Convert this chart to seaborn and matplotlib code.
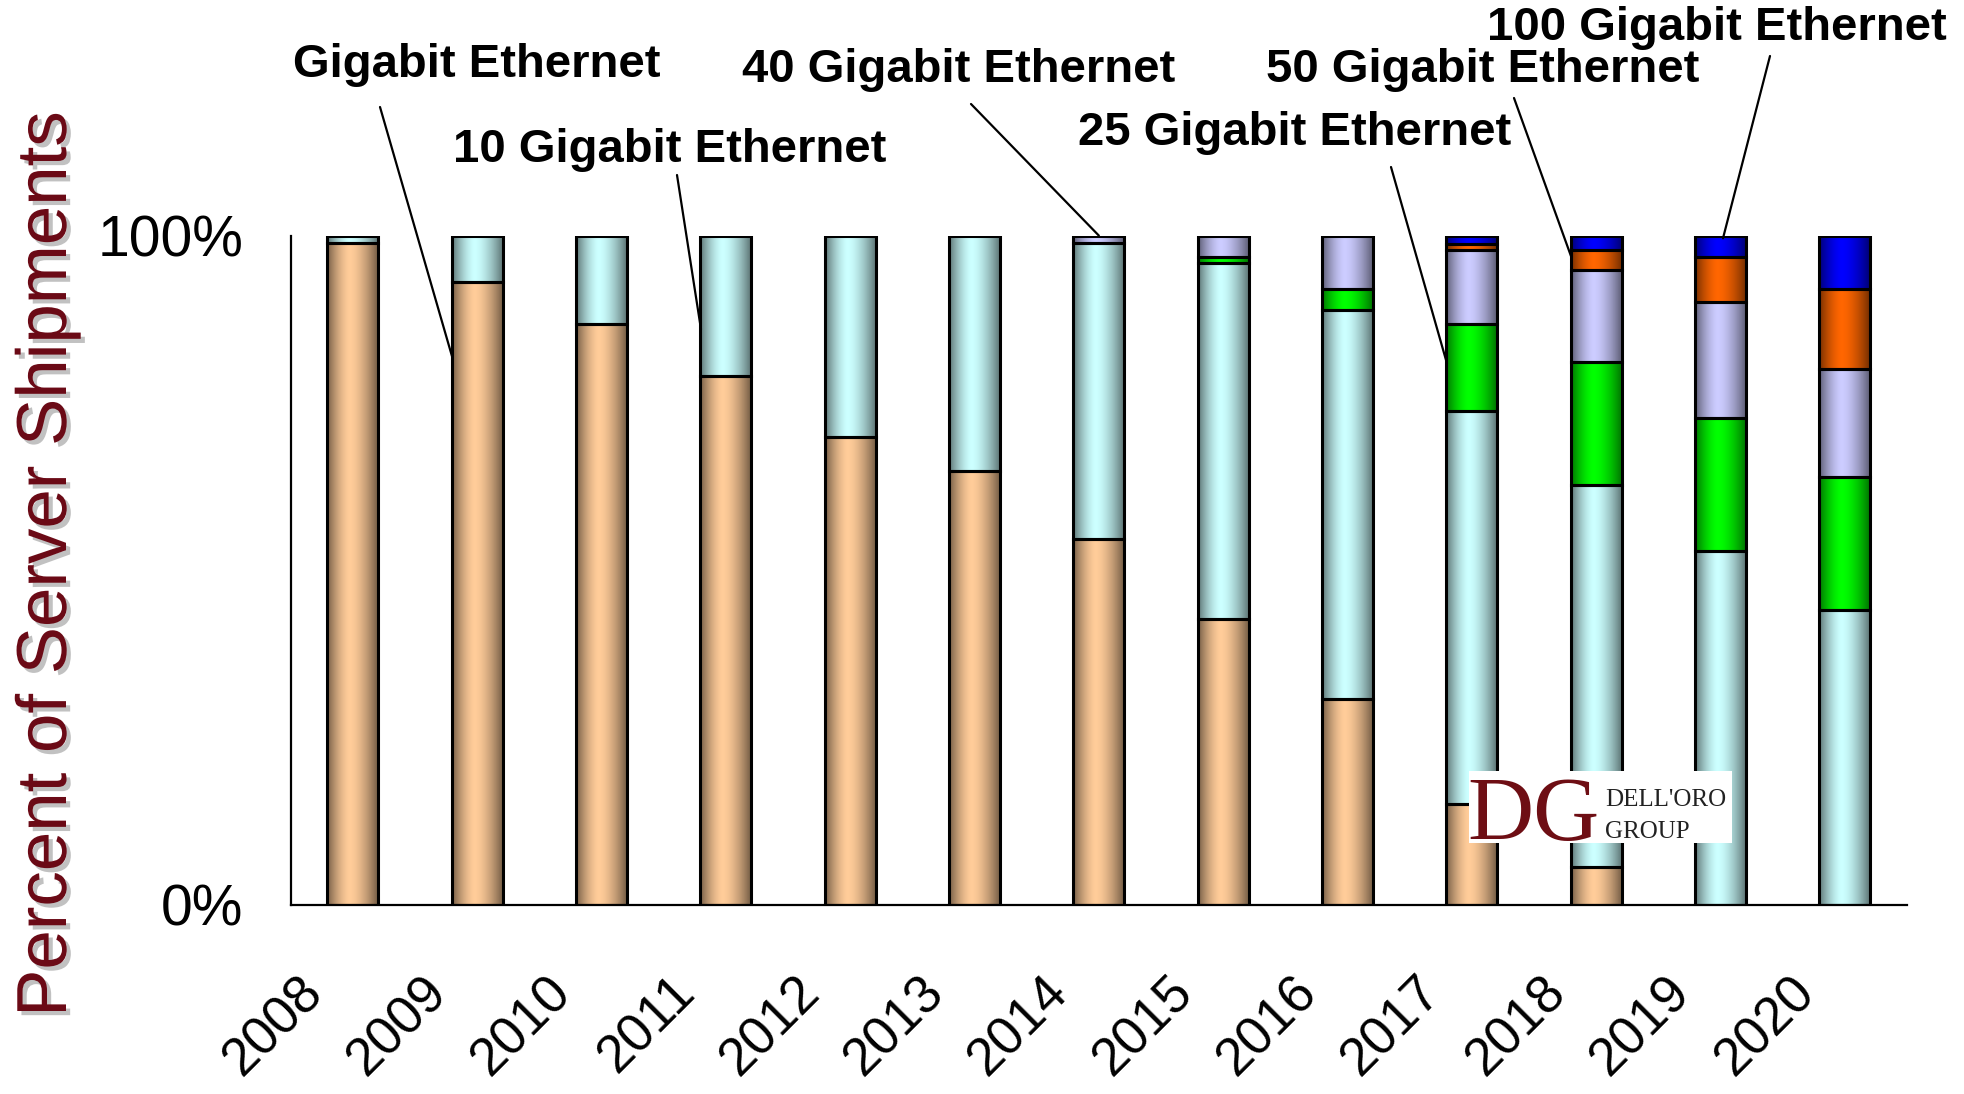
import numpy as np
import pandas as pd
import matplotlib
matplotlib.use('Agg')
from matplotlib import pyplot as plt
from matplotlib import patheffects
from matplotlib.patches import Rectangle
from matplotlib.transforms import ScaledTranslation
import seaborn as sb

'''
Server Ethernet port speed mix, share of shipments 2008-2020
'''

years = ['2008', '2009', '2010', '2011', '2012', '2013', '2014',
         '2015', '2016', '2017', '2018', '2019', '2020']

# percent of shipments per speed (bottom to top)
gbe = [98.9, 93.1, 86.8, 79.0, 69.9, 64.8, 54.7, 42.7, 30.7, 15.0, 5.6, 0.0, 0.0]
ge10 = [1.1, 6.9, 13.2, 21.0, 30.1, 35.2, 44.2, 53.2, 58.2, 58.8, 57.2, 52.9, 44.0]
ge25 = [0.0, 0.0, 0.0, 0.0, 0.0, 0.0, 0.0, 0.9, 3.1, 13.0, 18.3, 19.9, 19.9]
ge40 = [0.0, 0.0, 0.0, 0.0, 0.0, 0.0, 1.1, 3.2, 8.0, 11.1, 13.7, 17.3, 16.1]
ge50 = [0.0, 0.0, 0.0, 0.0, 0.0, 0.0, 0.0, 0.0, 0.0, 0.9, 3.1, 6.7, 12.0]
ge100 = [0.0, 0.0, 0.0, 0.0, 0.0, 0.0, 0.0, 0.0, 0.0, 1.2, 2.1, 3.2, 8.0]

series_names = ['Gigabit Ethernet', '10 Gigabit Ethernet', '25 Gigabit Ethernet',
                '40 Gigabit Ethernet', '50 Gigabit Ethernet', '100 Gigabit Ethernet']
series_vals = [gbe, ge10, ge25, ge40, ge50, ge100]
series_colors = ['#FFCC99', '#CCFFFF', '#00FF00', '#CCCCFF', '#FF6600', '#0000FF']

W, H = 1965, 1094


def fig_frac(px, py):
    return px / W, 1 - py / H


# label text centre (px), leader start (px), leader tip (data)
callouts = {
    'Gigabit Ethernet': ((477, 65), (380, 107), (0.8, 81.8)),
    '10 Gigabit Ethernet': ((670, 150), (677, 175), (2.8, 86.0)),
    '40 Gigabit Ethernet': ((959, 70), (971, 104), (6.0, 100.0)),
    '25 Gigabit Ethernet': ((1295, 133), (1391, 167), (8.8, 80.9)),
    '50 Gigabit Ethernet': ((1483, 70), (1514, 98), (9.8, 96.8)),
    '100 Gigabit Ethernet': ((1717, 28), (1770, 56), (11.02, 99.6)),
}


def shade_bars(ax, patches):
    # cylinder-like shading: darker towards both edges
    t = np.linspace(0, 1, 200)
    peak = 0.45
    d = np.where(t < peak, (peak - t) / peak, (t - peak) / (1 - peak))
    alpha = 0.55 * d ** 1.6
    grad = np.zeros((1, len(t), 4))
    grad[0, :, 3] = alpha
    for p in patches:
        x0, y0 = p.get_x(), p.get_y()
        w, h = p.get_width(), p.get_height()
        if h <= 0:
            continue
        im = ax.imshow(grad, extent=[x0, x0 + w, y0, y0 + h], aspect='auto',
                       interpolation='bilinear', zorder=2.5)
        im.set_clip_path(p)
        ax.add_patch(Rectangle((x0, y0), w, h, fill=False, edgecolor='black',
                               linewidth=2.2, zorder=3))


def stacked_plot(df):
    fig = plt.figure(figsize=(W / 100, H / 100), dpi=100)
    ax = fig.add_axes([290.7 / W, 1 - 904.8 / H, (1907 - 290.7) / W, (904.8 - 235.6) / H])

    bottom = np.zeros(len(df))
    all_patches = []
    for name, col in zip(series_names, series_colors):
        n0 = len(ax.patches)
        sb.barplot(data=df, x='year', y=name, bottom=bottom, color=col, saturation=1,
                   width=0.41, errorbar=None, edgecolor='black', linewidth=0, ax=ax, zorder=2)
        all_patches += ax.patches[n0:]
        bottom = bottom + df[name].values

    shade_bars(ax, all_patches)
    ax.set_xlim(-0.5, 12.5)
    ax.set_ylim(0, 100)

    for s in ['top', 'right']:
        ax.spines[s].set_visible(False)
    for s in ['left', 'bottom']:
        ax.spines[s].set_linewidth(1.6)
        ax.spines[s].set_color('black')

    ax.set_yticks([0, 100])
    ax.set_yticklabels(['0%', '100%'], fontsize=41)
    ax.tick_params(axis='y', direction='out', length=14, width=1.5, pad=20, colors='black')
    ax.tick_params(axis='x', length=0, pad=45, colors='black')
    ax.set_xlabel('')
    ax.set_ylabel('')
    ax.set_xticks(range(len(years)))
    ax.set_xticklabels(years, fontsize=38, rotation=45, ha='right', va='top',
                       rotation_mode='anchor')
    off = ScaledTranslation(-0.56, 0, fig.dpi_scale_trans)
    for lab in ax.get_xticklabels():
        lab.set_transform(lab.get_transform() + off)

    # y title with drop shadow
    fig.text(*fig_frac(48, 564), 'Percent of Server Shipments', rotation=90,
             ha='center', va='center', fontsize=51, color='#6B0A16',
             path_effects=[patheffects.withSimplePatchShadow(offset=(3, -3),
                                                             shadow_rgbFace='#999999', alpha=0.6)])

    # callouts
    for name, (txt, start, tip) in callouts.items():
        fig.text(*fig_frac(*txt), name, ha='center', va='center',
                 fontsize=34, fontweight='bold', color='black')
        ax.annotate('', xy=tip, xycoords='data', xytext=fig_frac(*start),
                    textcoords='figure fraction',
                    arrowprops=dict(arrowstyle='-', color='black', lw=1.6,
                                    shrinkA=0, shrinkB=0), annotation_clip=False)

    # Dell'Oro logo
    x0, y1 = fig_frac(1469, 843)
    fig.patches.append(Rectangle((x0, y1), 263 / W, 72 / H, transform=fig.transFigure,
                                 facecolor='white', edgecolor='none', zorder=5))
    fig.text(*fig_frac(1467, 840), 'DG', fontsize=66, family='Liberation Serif',
             color='#6E0E14', ha='left', va='baseline', zorder=6)
    fig.text(*fig_frac(1605, 806), "DELL'ORO", fontsize=18, family='Liberation Serif',
             color='#222222', ha='left', va='baseline', zorder=6)
    fig.text(*fig_frac(1605, 838), 'GROUP', fontsize=18, family='Liberation Serif',
             color='#222222', ha='left', va='baseline', zorder=6)

    fig.savefig('out.png', dpi=100)
    return fig, ax


if __name__ == "__main__":
    sb.set_style('white')
    plt.rcParams['font.family'] = ['Liberation Sans', 'DejaVu Sans']
    plt.rcParams['text.color'] = 'black'

    df = pd.DataFrame({'year': years})
    for name, vals in zip(series_names, series_vals):
        df[name] = vals

    stacked_plot(df)
